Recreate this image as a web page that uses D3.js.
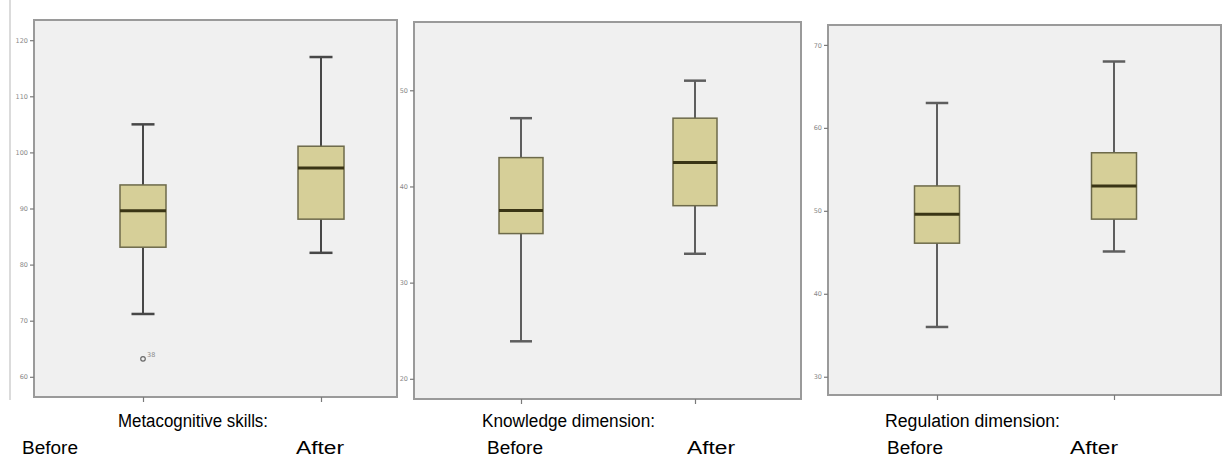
<!DOCTYPE html>
<html>
<head>
<meta charset="utf-8">
<script src="https://cdn.jsdelivr.net/npm/d3@7"></script>
<style>
  html, body { margin: 0; padding: 0; background: #ffffff; }
  svg { display: block; }
</style>
</head>
<body>
<svg id="chart" width="1224" height="472"></svg>
<script>
// ---------------- DATA ----------------
const categories = ["Before", "After"];

// [min whisker, Q1, median, Q3, max whisker]
const metaStats = [[71.2, 83.1, 89.6, 94.2, 105.0], [82.1, 88.1, 97.2, 101.1, 117.0]];
const metaOutliers = [{ cat: "Before", value: 63.2, label: "38" }];
const metaTicks = [60, 70, 80, 90, 100, 110, 120];

const knowStats = [[23.9, 35.1, 37.5, 43.0, 47.1], [33.0, 38.0, 42.5, 47.1, 51.0]];
const knowOutliers = [];
const knowTicks = [20, 30, 40, 50];

const regStats = [[36.0, 46.1, 49.6, 53.0, 63.0], [45.1, 49.0, 53.0, 57.0, 68.0]];
const regOutliers = [];
const regTicks = [30, 40, 50, 60, 70];

const titles = ["Metacognitive skills:", "Knowledge dimension:", "Regulation dimension:"];

// ---------------- LAYOUT ----------------
const panels = [
  { stats: metaStats, outliers: metaOutliers, ticks: metaTicks, domain: [56.4, 123.6],
    x0: 34, x1: 397, y0: 20, y1: 397, centers: [143, 321], boxW: 46, whisk: "#474747",
    title: titles[0], titleX: 118, titleW: 150, beforeX: 22, afterX: 296 },
  { stats: knowStats, outliers: knowOutliers, ticks: knowTicks, domain: [17.9, 57.1],
    x0: 414, x1: 801, y0: 22, y1: 399, centers: [521, 695], boxW: 44, whisk: "#5e5e5e",
    title: titles[1], titleX: 482, titleW: 173, beforeX: 487, afterX: 687 },
  { stats: regStats, outliers: regOutliers, ticks: regTicks, domain: [27.8, 72.4],
    x0: 828, x1: 1221, y0: 25, y1: 395, centers: [937, 1114], boxW: 45, whisk: "#5e5e5e",
    title: titles[2], titleX: 885, titleW: 175, beforeX: 887, afterX: 1070 }
];

const svg = d3.select("#chart");

// faint left border line of the original scan
svg.append("line").attr("x1", 10).attr("x2", 10).attr("y1", 0).attr("y2", 400)
  .attr("stroke", "#cfcfcf").attr("stroke-width", 1.5);

const font = "Liberation Sans, Arial, sans-serif";
function caption(x, yPos, txt, w) {
  svg.append("text").attr("x", x).attr("y", yPos)
    .attr("textLength", w).attr("lengthAdjust", "spacingAndGlyphs")
    .style("font-family", font).style("font-size", "18px").attr("fill", "#000")
    .text(txt);
}

panels.forEach(p => {
  const g = svg.append("g");
  const y = d3.scaleLinear().domain(p.domain).range([p.y1, p.y0]);
  const x = d3.scaleOrdinal().domain(categories).range(p.centers);

  // frame
  g.append("rect")
    .attr("x", p.x0).attr("y", p.y0)
    .attr("width", p.x1 - p.x0).attr("height", p.y1 - p.y0)
    .attr("fill", "#f0f0f0").attr("stroke", "#9a9a9a").attr("stroke-width", 2);

  // y axis
  const yAxis = d3.axisLeft(y).tickValues(p.ticks).tickSize(4).tickPadding(2)
    .tickFormat(d3.format("d"));
  const ay = g.append("g").attr("transform", `translate(${p.x0},0)`).call(yAxis);
  ay.select(".domain").remove();
  ay.selectAll(".tick line").attr("stroke", "#7a7a7a").attr("stroke-width", 1.2);
  ay.selectAll(".tick text").attr("fill", "#888")
    .style("font-family", "DejaVu Sans, sans-serif").style("font-size", "6.5px");

  // x axis ticks
  const xAxis = d3.axisBottom(x).tickSize(5).tickFormat("");
  const ax = g.append("g").attr("transform", `translate(0,${p.y1})`).call(xAxis);
  ax.select(".domain").remove();
  ax.selectAll(".tick line").attr("stroke", "#7a7a7a").attr("stroke-width", 1.2);

  // boxes
  categories.forEach((c, i) => {
    const s = p.stats[i];
    const cx = x(c);
    const w = p.boxW;
    g.append("line").attr("x1", cx).attr("x2", cx)
      .attr("y1", y(s[0])).attr("y2", y(s[4]))
      .attr("stroke", p.whisk).attr("stroke-width", 2);
    [s[0], s[4]].forEach(v => {
      g.append("line").attr("x1", cx - w / 4).attr("x2", cx + w / 4)
        .attr("y1", y(v)).attr("y2", y(v))
        .attr("stroke", p.whisk).attr("stroke-width", 2.5);
    });
    g.append("rect").attr("x", cx - w / 2).attr("y", y(s[3]))
      .attr("width", w).attr("height", y(s[1]) - y(s[3]))
      .attr("fill", "#d6cf98").attr("stroke", "#6d6a4a").attr("stroke-width", 1.5);
    g.append("line").attr("x1", cx - w / 2).attr("x2", cx + w / 2)
      .attr("y1", y(s[2])).attr("y2", y(s[2]))
      .attr("stroke", "#3a3515").attr("stroke-width", 3);
  });

  // outliers
  p.outliers.forEach(o => {
    g.append("circle").attr("cx", x(o.cat)).attr("cy", y(o.value)).attr("r", 2.3)
      .attr("fill", "none").attr("stroke", "#6a6a6a").attr("stroke-width", 1.2);
    g.append("text").attr("x", x(o.cat) + 4).attr("y", y(o.value) - 2)
      .attr("fill", "#8a8a8a").style("font-family", "DejaVu Sans, sans-serif")
      .style("font-size", "6.5px").text(o.label);
  });

  // captions
  caption(p.titleX, 427, p.title, p.titleW);
  caption(p.beforeX, 454, categories[0], 56);
  caption(p.afterX, 454, categories[1], 48);
});
</script>
</body>
</html>
